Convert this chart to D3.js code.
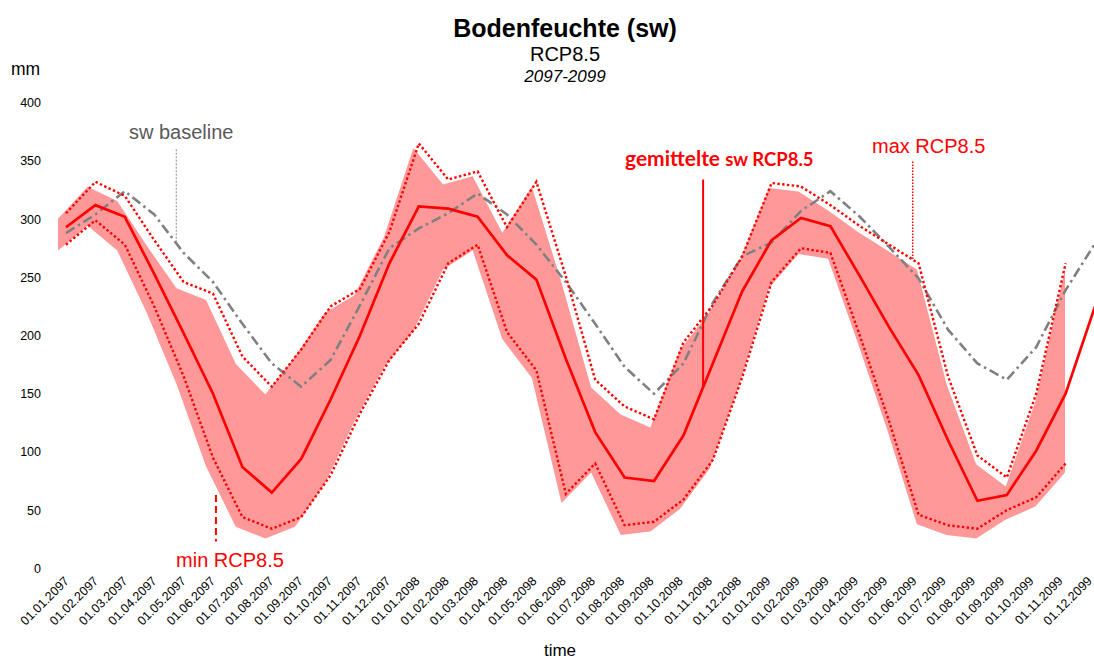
<!DOCTYPE html>
<html>
<head>
<meta charset="utf-8">
<script src="https://cdn.jsdelivr.net/npm/d3@7/dist/d3.min.js"></script>
<style>
  html, body { margin: 0; padding: 0; background: #fff; }
  svg { display: block; font-family: "Liberation Sans", Arial, sans-serif; }
</style>
</head>
<body>
<svg id="chart" width="1094" height="661"></svg>
<script>
// Monthly time steps (first of month)
const months = [
  "01.01.2097","01.02.2097","01.03.2097","01.04.2097","01.05.2097","01.06.2097",
  "01.07.2097","01.08.2097","01.09.2097","01.10.2097","01.11.2097","01.12.2097",
  "01.01.2098","01.02.2098","01.03.2098","01.04.2098","01.05.2098","01.06.2098",
  "01.07.2098","01.08.2098","01.09.2098","01.10.2098","01.11.2098","01.12.2098",
  "01.01.2099","01.02.2099","01.03.2099","01.04.2099","01.05.2099","01.06.2099",
  "01.07.2099","01.08.2099","01.09.2099","01.10.2099","01.11.2099","01.12.2099"
];

// Soil water (mm): ensemble mean RCP8.5
const swMean = [293,312,302,253,202,150,87,65,94,145,200,262,
                311,309,302,269,248,180,117,78,75,114,176,238,
                282,301,294,251,207,166,110,58,63,101,150,225];

// Ensemble maximum RCP8.5
const swMax = [305,332,320,282,246,236,182,156,188,225,240,289,
               365,334,341,293,332,251,162,139,128,194,226,268,
               331,328,312,294,278,262,165,97,78,150,262];

// Ensemble minimum RCP8.5
const swMin = [278,299,278,225,165,95,44,34,44,80,133,179,
               210,262,278,203,170,64,90,37,40,59,93,164,
               246,275,271,200,126,46,37,34,50,61,90];

// Reference period (baseline)
const swBaseline = [288,304,324,304,271,246,210,176,156,179,226,275,
                    292,305,322,304,278,246,210,173,150,176,228,268,
                    280,307,324,302,276,249,205,176,162,190,239,279];

const yTicks = [0,50,100,150,200,250,300,350,400];

const svg = d3.select("#chart");
const red = "#ff0000";

// Scales
const x = d3.scalePoint().domain(months).range([66, 1095]);
const y = d3.scaleLinear().domain([0, 400]).range([568.3, 102.7]);
// Date labels are laid out on a slightly narrower span so the last one stays on canvas
const xLabels = x.copy().range([66, 1089]);

// The shaded envelope layer uses its own, slightly different frame
const bandMonths = months.slice(0, swMax.length);
const xBand = d3.scalePoint().domain(bandMonths).range([58, 1065]);
const yBand = d3.scaleLinear().domain([0, 400]).range([578.6, 106.6]);

// Position between two months, by fractional index
const xAt = f => {
  const i = Math.floor(f), t = f - i;
  return x(months[i]) + t * x.step();
};
const valAt = (arr, f) => {
  const i = Math.floor(f), t = f - i;
  return arr[i] + t * ((arr[i + 1] ?? arr[i]) - arr[i]);
};

// Titles
svg.append("text").attr("x", 565).attr("y", 37).attr("text-anchor", "middle")
  .attr("font-size", 25).attr("font-weight", "bold").text("Bodenfeuchte (sw)");
svg.append("text").attr("x", 565).attr("y", 61).attr("text-anchor", "middle")
  .attr("font-size", 20).text("RCP8.5");
svg.append("text").attr("x", 565).attr("y", 82).attr("text-anchor", "middle")
  .attr("font-size", 17).attr("font-style", "italic").text("2097-2099");

// Unit label
svg.append("text").attr("x", 11).attr("y", 75).attr("font-size", 17.5).text("mm");

// Y axis (labels only)
const yAxis = svg.append("g").attr("transform", "translate(47,0)")
  .call(d3.axisLeft(y).tickValues(yTicks).tickSize(0).tickPadding(6));
yAxis.select(".domain").remove();
yAxis.selectAll("text").attr("font-size", 12.5).attr("font-family", "Liberation Sans, Arial, sans-serif").attr("fill", "#000");

// X axis (rotated date labels)
const xAxis = svg.append("g").attr("transform", "translate(0,576)")
  .call(d3.axisBottom(xLabels).tickSize(0));
xAxis.select(".domain").remove();
xAxis.selectAll("text")
  .attr("font-size", 12.5).attr("font-family", "Liberation Sans, Arial, sans-serif").attr("fill", "#000")
  .attr("text-anchor", "end").attr("dy", "0.3em").attr("dx", 0)
  .attr("transform", "translate(-1.5,1) rotate(-45)");

svg.append("text").attr("x", 560).attr("y", 656).attr("text-anchor", "middle")
  .attr("font-size", 17).text("time");

// Soft edge for the envelope
const defs = svg.append("defs");
defs.append("filter").attr("id", "soft").attr("x", "-5%").attr("y", "-5%")
  .attr("width", "110%").attr("height", "110%")
  .append("feGaussianBlur").attr("stdDeviation", 0.7);

// Envelope between ensemble min and max
const band = d3.area()
  .x((d, i) => xBand(bandMonths[i]))
  .y0((d, i) => yBand(swMin[i]))
  .y1((d, i) => yBand(swMax[i]));
svg.append("path").datum(swMax).attr("d", band)
  .attr("fill", "#ff9999").attr("filter", "url(#soft)");

const line = d3.line().x((d, i) => x(months[i])).y(d => y(d));

// Baseline: grey dash-dot
svg.append("path").datum(swBaseline).attr("d", line)
  .attr("fill", "none").attr("stroke", "#808080").attr("stroke-width", 2.6)
  .attr("stroke-dasharray", "10,4,2.5,4");

// Ensemble min / max: red dotted
[swMin, swMax].forEach(arr => {
  svg.append("path").datum(arr).attr("d", line)
    .attr("fill", "none").attr("stroke", red).attr("stroke-width", 2.4)
    .attr("stroke-dasharray", "2.4,2.4");
});

// Ensemble mean: solid red
svg.append("path").datum(swMean).attr("d", line)
  .attr("fill", "none").attr("stroke", red).attr("stroke-width", 2.7)
  .attr("stroke-linejoin", "miter");

// Annotations
// sw baseline
const fBase = 3.75;
svg.append("line")
  .attr("x1", xAt(fBase)).attr("x2", xAt(fBase))
  .attr("y1", y(360)).attr("y2", y(valAt(swBaseline, fBase)))
  .attr("stroke", "#8c8c8c").attr("stroke-width", 1).attr("stroke-dasharray", "2,1.5");
svg.append("text").attr("x", xAt(fBase) + 5).attr("y", y(369)).attr("text-anchor", "middle")
  .attr("font-size", 20).attr("fill", "#595959").text("sw baseline");

// min RCP8.5
const fMin = 5.1;
svg.append("line")
  .attr("x1", xAt(fMin)).attr("x2", xAt(fMin))
  .attr("y1", y(63)).attr("y2", y(23))
  .attr("stroke", red).attr("stroke-width", 2).attr("stroke-dasharray", "7,4");
svg.append("text").attr("x", xAt(fMin) + 14).attr("y", y(1.5)).attr("text-anchor", "middle")
  .attr("font-size", 20).attr("fill", red).text("min RCP8.5");

// gemittelte sw RCP8.5
const fMean = 21.67;
svg.append("line")
  .attr("x1", xAt(fMean)).attr("x2", xAt(fMean))
  .attr("y1", y(334)).attr("y2", y(valAt(swMean, fMean)))
  .attr("stroke", red).attr("stroke-width", 2);
const gm = svg.append("text").attr("x", 625).attr("y", y(345.5))
  .attr("font-family", "Lato, 'Open Sans', sans-serif").attr("font-weight", "bold").attr("fill", red);
gm.append("tspan").attr("font-size", 21).text("gemittelte ");
gm.append("tspan").attr("font-size", 18.5).text("sw RCP8.5");

// max RCP8.5
const fMax = 28.8;
svg.append("line")
  .attr("x1", xAt(fMax)).attr("x2", xAt(fMax))
  .attr("y1", y(349.5)).attr("y2", y(valAt(swMax, fMax)))
  .attr("stroke", red).attr("stroke-width", 1.5).attr("stroke-dasharray", "1.5,1.5");
svg.append("text").attr("x", xAt(fMax) + 16).attr("y", y(356.7)).attr("text-anchor", "middle")
  .attr("font-size", 20).attr("fill", red).text("max RCP8.5");
</script>
</body>
</html>
